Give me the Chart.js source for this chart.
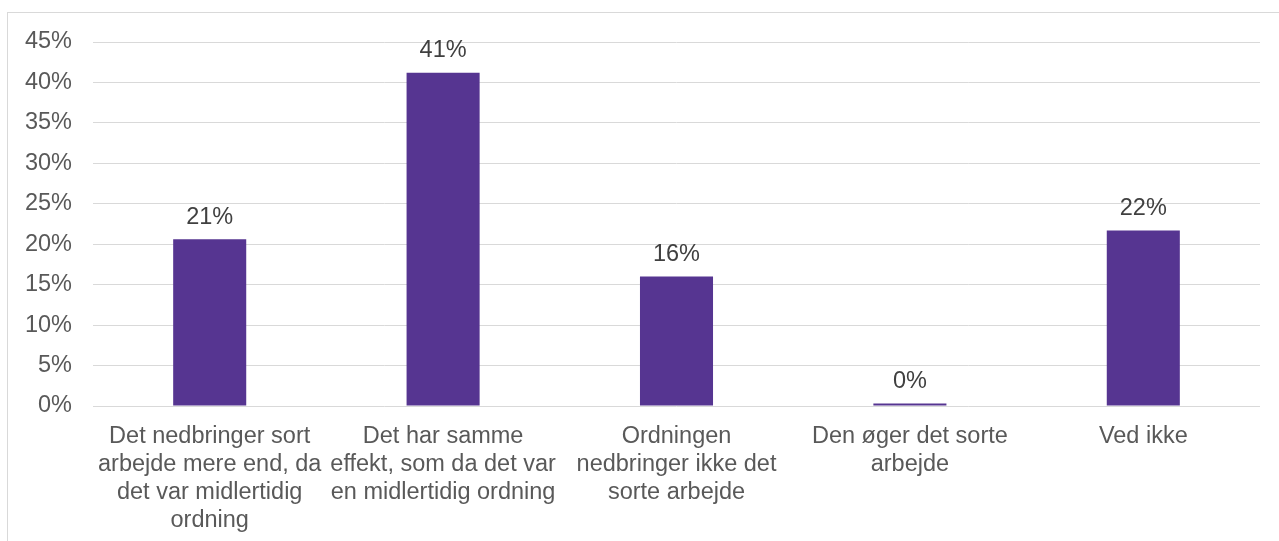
<!DOCTYPE html>
<html>
<head>
<meta charset="utf-8">
<script src="https://cdn.jsdelivr.net/npm/chart.js@4/dist/chart.umd.min.js"></script>
<style>
  body { margin: 0; background: #fff; }
  #frame { position: absolute; left: 7px; top: 12px; width: 1400px; height: 600px;
           border-left: 1px solid #d9d9d9; border-top: 1px solid #d9d9d9; }
  #chart { position: absolute; left: 0; top: 0; }
</style>
</head>
<body>
<div id="frame"></div>
<canvas id="chart" width="1279" height="541"></canvas>
<script>
const categories = [
  ['Det nedbringer sort', 'arbejde mere end, da', 'det var midlertidig', 'ordning'],
  ['Det har samme', 'effekt, som da det var', 'en midlertidig ordning'],
  ['Ordningen', 'nedbringer ikke det', 'sorte arbejde'],
  ['Den øger det sorte', 'arbejde'],
  ['Ved ikke']
]
const values = [20.6, 41.2, 16.0, 0.3, 21.7]
const valueLabels = ['21%', '41%', '16%', '0%', '22%']

const font = 'Liberation Sans, Arial, sans-serif'

// labels over the bars
const barLabels = {
  id: 'barLabels',
  afterDatasetsDraw(chart) {
    const ctx = chart.ctx
    const meta = chart.getDatasetMeta(0)
    ctx.save()
    ctx.font = '23.5px ' + font
    ctx.fillStyle = '#404040'
    ctx.textAlign = 'center'
    ctx.textBaseline = 'middle'
    meta.data.forEach((bar, i) => {
      ctx.fillText(valueLabels[i], bar.x, bar.y - 22)
    })
    ctx.restore()
  }
}

new Chart(document.getElementById('chart'), {
  type: 'bar',
  data: {
    labels: categories,
    datasets: [{
      data: values,
      backgroundColor: '#563591',
      barPercentage: 0.313,
      categoryPercentage: 1
    }]
  },
  options: {
    responsive: false,
    animation: false,
    layout: { padding: { top: 42, right: 19, bottom: 0, left: 0 } },
    plugins: { legend: { display: false }, tooltip: { enabled: false } },
    scales: {
      x: {
        grid: { display: false, drawTicks: false },
        border: { display: false },
        ticks: {
          color: '#595959',
          font: { family: font, size: 23.5, lineHeight: 1.18 },
          padding: 17,
          maxRotation: 0,
          autoSkip: false
        },
        afterFit(axis) { axis.height = 135 }
      },
      y: {
        min: 0,
        max: 45,
        grid: { color: '#d9d9d9', lineWidth: 1, drawTicks: false },
        border: { display: false },
        ticks: {
          stepSize: 5,
          color: '#595959',
          font: { family: font, size: 23.5 },
          padding: 21,
          callback: v => v + '%'
        },
        afterFit(axis) { axis.width = 93 }
      }
    }
  },
  plugins: [barLabels]
})
</script>
</body>
</html>
